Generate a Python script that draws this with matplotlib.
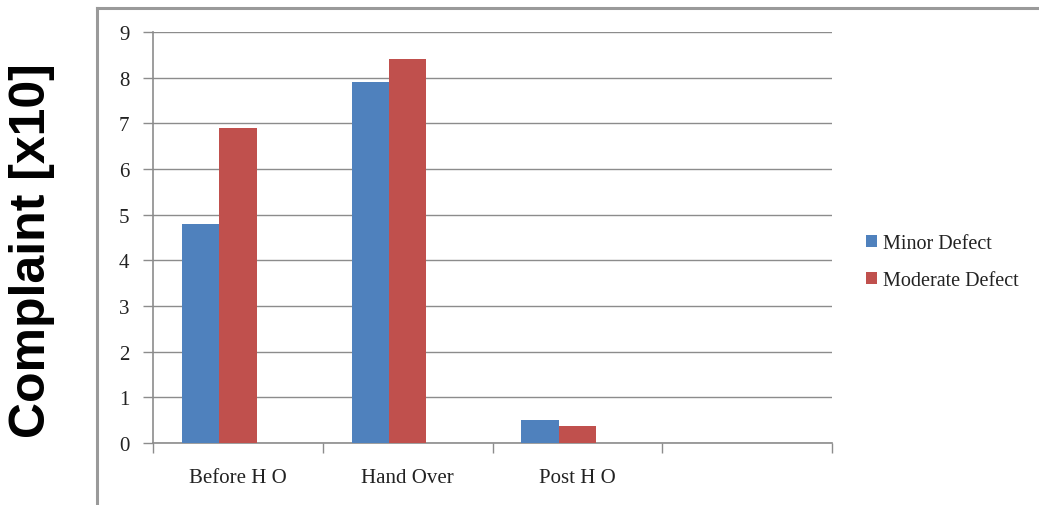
import matplotlib
matplotlib.use("Agg")
import matplotlib.pyplot as plt
from matplotlib.lines import Line2D
import numpy as np

categories = ["Before H O", "Hand Over", "Post H O", ""]
minor_defect = [4.8, 7.9, 0.5, np.nan]
moderate_defect = [6.9, 8.4, 0.38, np.nan]
series_names = ["Minor Defect", "Moderate Defect"]
y_ticks = list(range(0, 10))

W, H = 1039, 506
fig = plt.figure(figsize=(W / 100, H / 100), dpi=100)
fig.patch.set_facecolor("white")

# outer frame (top and left edges visible)
fig.add_artist(Line2D([97 / W, 1.0], [1 - 9 / H, 1 - 9 / H], color="#9a9a9a", lw=2.2))
fig.add_artist(Line2D([97 / W, 97 / W], [0, 1 - 9 / H], color="#9a9a9a", lw=2.2))

ax = fig.add_axes([153 / W, 62 / H, (832 - 153) / W, (444 - 33) / H])

x = np.arange(len(categories)) + 0.5
bw = 0.22
ax.bar(x - bw, minor_defect, width=bw, color="#4F81BD", label=series_names[0], zorder=3)
ax.bar(x, moderate_defect, width=bw, color="#C0504D", label=series_names[1], zorder=3)

ax.set_xlim(0, len(categories))
ax.set_ylim(0, 9)
ax.set_yticks(y_ticks)
ax.set_yticklabels([str(t) for t in y_ticks])
ax.yaxis.grid(True, color="#8c8c8c", lw=1.0, zorder=0)
ax.set_axisbelow(True)

# category labels at centers, ticks at boundaries
ax.set_xticks(np.arange(len(categories) + 1))
ax.set_xticklabels([])
ax.set_xticks(x, minor=True)
ax.set_xticklabels(categories, minor=True)
ax.tick_params(axis="x", which="major", length=7, width=1, color="#8c8c8c", direction="out")
ax.tick_params(axis="x", which="minor", length=0, pad=18)
ax.tick_params(axis="y", length=7, width=1, color="#8c8c8c", pad=10)

for lab in ax.get_xticklabels(minor=True) + ax.get_yticklabels():
    lab.set_fontfamily("Liberation Serif")
    lab.set_fontsize(15)
    lab.set_color("#222222")

for s in ["top", "right"]:
    ax.spines[s].set_visible(False)
for s in ["left", "bottom"]:
    ax.spines[s].set_color("#8c8c8c")
    ax.spines[s].set_linewidth(1.2)

fig.text(32 / W, 1 - 251 / H, "Complaint [x10]", rotation=90, ha="center", va="center",
         fontsize=36, fontweight="bold", family="Liberation Sans", color="black")

leg = fig.legend(loc="center left", bbox_to_anchor=(848 / W, 1 - 263 / H), frameon=False,
                 prop={"family": "Liberation Serif", "size": 14.5},
                 handlelength=0.55, handleheight=0.55, handletextpad=0.3, labelspacing=0.9)
for t in leg.get_texts():
    t.set_color("#222222")

fig.savefig("out.png", dpi=100, facecolor="white")
